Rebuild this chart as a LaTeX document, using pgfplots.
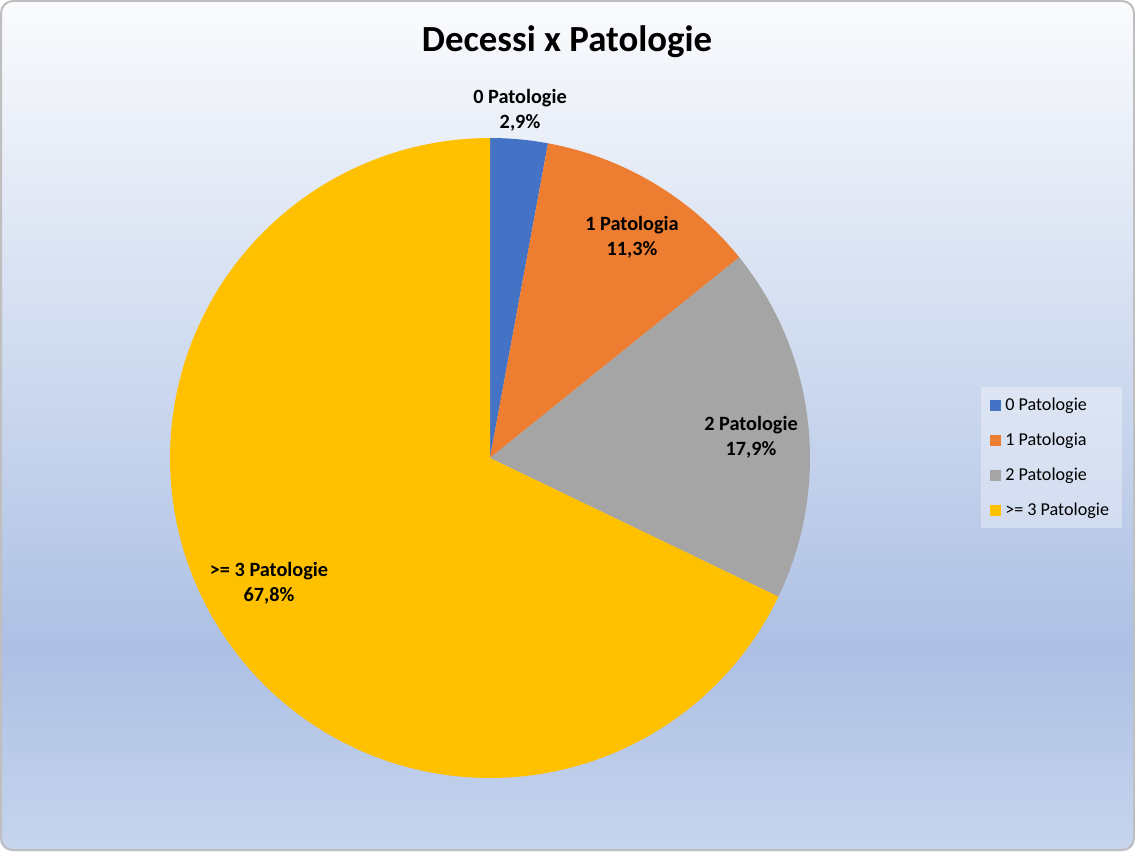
\documentclass[border=0pt]{standalone}
\usepackage{pgfplots}
\pgfplotsset{compat=1.18}
\usepgfplotslibrary{polar}
\usepackage{fontspec}
\setmainfont{Carlito}

\definecolor{cA}{HTML}{4472C4}
\definecolor{cB}{HTML}{ED7D31}
\definecolor{cC}{HTML}{A5A5A5}
\definecolor{cD}{HTML}{FFC000}
\definecolor{bgtop}{HTML}{FAFBFD}
\definecolor{bgmid}{HTML}{ADC0E4}
\definecolor{bgbot}{HTML}{C6D4ED}

% background: white at top, blue near the bottom, a bit lighter at the very bottom
\pgfdeclareverticalshading{bgshade}{100bp}{color(0bp)=(bgbot); color(25bp)=(bgbot);
  color(36.8bp)=(bgmid); color(75bp)=(bgtop); color(100bp)=(bgtop)}

% slice values (percent)
\def\vA{2.9}
\def\vB{11.3}
\def\vC{17.9}
\def\vD{67.8}
\pgfmathsetmacro{\tot}{\vA+\vB+\vC+\vD}
\pgfmathsetmacro{\k}{360/\tot}
\pgfmathsetmacro{\aA}{90-\k*\vA}
\pgfmathsetmacro{\aB}{\aA-\k*\vB}
\pgfmathsetmacro{\aC}{\aB-\k*\vC}
\pgfmathsetmacro{\aD}{\aC-\k*\vD}

\begin{document}
\begin{tikzpicture}
\begin{scope}[x=0.75pt,y=-0.75pt,yshift=638.25pt]
  \shade[shading=bgshade,rounded corners=9pt] (0,0) rectangle (1135,851);
  \draw[color=black!25,line width=1.5pt,rounded corners=9pt] (1,1) rectangle (1134,850);
\end{scope}

\begin{polaraxis}[
    at={(367.5pt,294.75pt)}, anchor=center,
    width=480pt, height=480pt, scale only axis,
    hide axis, ymin=0, ymax=1, xmin=0, xmax=360, clip=false]
  \addplot[draw=none,fill=cA,domain=\aA:90,samples=20] {1} -- (axis cs:0,0) -- cycle;
  \addplot[draw=none,fill=cB,domain=\aB:\aA,samples=40] {1} -- (axis cs:0,0) -- cycle;
  \addplot[draw=none,fill=cC,domain=\aC:\aB,samples=60] {1} -- (axis cs:0,0) -- cycle;
  \addplot[draw=none,fill=cD,domain=\aD:\aC,samples=180] {1} -- (axis cs:0,0) -- cycle;
\end{polaraxis}

\begin{scope}[x=0.75pt,y=-0.75pt,yshift=638.25pt]
  \node[font=\fontsize{27.6pt}{32pt}\selectfont\bfseries] at (567,42) {Decessi x Patologie};
  \tikzset{lbl/.style={font=\fontsize{15.2pt}{18.4pt}\selectfont\bfseries,align=center}}
  \node[lbl] at (520,110) {0 Patologie\\2,9\%};
  \node[lbl] at (632,237.5) {1 Patologia\\11,3\%};
  \node[lbl] at (751,437.5) {2 Patologie\\17,9\%};
  \node[lbl] at (269,583.5) {>= 3 Patologie\\67,8\%};

  % legend
  \fill[white,opacity=0.35] (981,387) rectangle (1122,528);
  \foreach \c/\t [count=\i from 0] in {cA/0 Patologie,cB/1 Patologia,cC/2 Patologie,cD/>= 3 Patologie}{
    \fill[\c] (990,{400+35*\i}) rectangle (1000.5,{410.5+35*\i});
    \node[anchor=west,inner sep=0pt,font=\fontsize{13.6pt}{16pt}\selectfont] at (1005,{405.5+35*\i}) {\t};
  }
\end{scope}
\end{tikzpicture}
\end{document}
